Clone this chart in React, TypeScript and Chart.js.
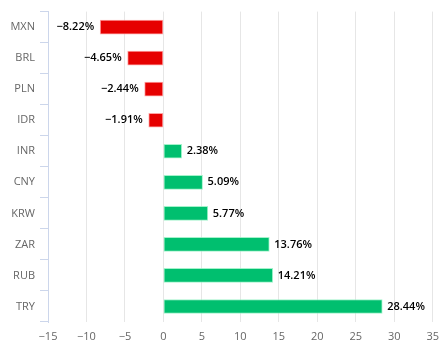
import React, { useEffect, useRef } from "react";
import { Chart, registerables } from "chart.js";

Chart.register(...registerables);

const categories = ["MXN", "BRL", "PLN", "IDR", "INR", "CNY", "KRW", "ZAR", "RUB", "TRY"];
const values = [-8.22, -4.65, -2.44, -1.91, 2.38, 5.09, 5.77, 13.76, 14.21, 28.44];
const xMin = -15;
const xMax = 35;
const xStep = 5;

const RED = "#e60000";
const GREEN = "#00bf6f";
const FONT = "'Open Sans', sans-serif";

const fmtNum = (v: number, digits: number) =>
  (v < 0 ? "\u2212" : "") + Math.abs(v).toFixed(digits);

const labelPlugin = {
  id: "barLabels",
  afterDatasetsDraw(chart: any) {
    const ctx = chart.ctx;
    const meta = chart.getDatasetMeta(0);
    ctx.save();
    ctx.font = `600 11px ${FONT}`;
    ctx.fillStyle = "#000";
    ctx.textBaseline = "middle";
    meta.data.forEach((bar: any, i: number) => {
      const v = values[i];
      const txt = fmtNum(v, 2) + "%";
      if (v >= 0) {
        ctx.textAlign = "left";
        ctx.fillText(txt, bar.x + 5, bar.y);
      } else {
        ctx.textAlign = "right";
        ctx.fillText(txt, bar.x - 6, bar.y);
      }
    });
    ctx.restore();
  },
};

export default function App() {
  const ref = useRef<HTMLCanvasElement>(null);
  useEffect(() => {
    if (!ref.current) return;
    const chart = new Chart(ref.current, {
      type: "bar",
      data: {
        labels: categories,
        datasets: [
          {
            data: values,
            backgroundColor: values.map((v) => (v < 0 ? RED : GREEN)),
            borderColor: values.map((v) => (v < 0 ? "rgba(255,140,140,0.8)" : "rgba(140,240,190,0.8)")),
            borderWidth: 1,
            borderSkipped: false,
            barThickness: 14,
          },
        ],
      },
      options: {
        indexAxis: "y",
        animation: false,
        responsive: false,
        maintainAspectRatio: false,
        layout: { padding: { top: 4, right: 12, left: 0, bottom: 0 } },
        plugins: { legend: { display: false }, tooltip: { enabled: false } },
        scales: {
          x: {
            min: xMin,
            max: xMax,
            border: { display: false },
            grid: { color: "#e6e6e6", drawTicks: false, lineWidth: 1 },
            ticks: {
              stepSize: xStep,
              padding: 8,
              color: "#666666",
              font: { family: FONT, size: 11 },
              callback: (v: any) => fmtNum(Number(v), 0),
            },
            afterFit: (s: any) => {
              s.height = 27;
            },
          },
          y: {
            border: { display: true, color: "#ccd6eb", width: 1 },
            grid: {
              offset: true,
              drawOnChartArea: false,
              tickLength: 8,
              color: "#ccd6eb",
            },
            ticks: {
              padding: 5,
              color: "#666666",
              font: { family: FONT, size: 11 },
            },
            afterFit: (s: any) => {
              s.width = 48;
            },
          },
        },
      },
      plugins: [labelPlugin],
    } as any);
    return () => chart.destroy();
  }, []);
  return (
    <div style={{ position: "fixed", left: 0, top: 0, width: 447, height: 349 }}>
      <canvas ref={ref} width={447} height={349} style={{ display: "block" }} />
    </div>
  );
}
